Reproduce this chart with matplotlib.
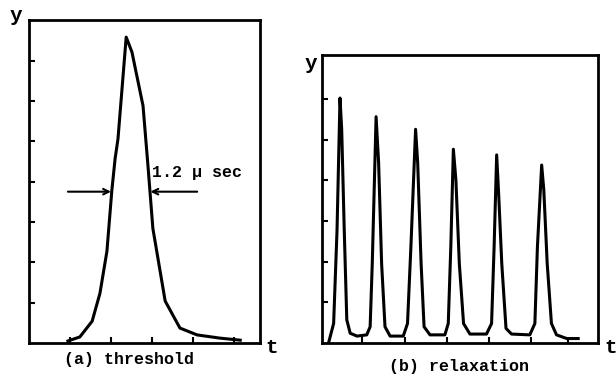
import numpy as np
from matplotlib import pyplot as plt

# (a) threshold pulse
t_a = [0.95, 1.24, 1.54, 1.73, 1.90, 2.02, 2.10, 2.17, 2.37, 2.51, 2.78, 2.90, 3.02, 3.32, 3.68, 4.10, 4.66, 5.15]
y_a = [0.05, 0.15, 0.54, 1.23, 2.27, 3.78, 4.57, 5.06, 7.58, 7.21, 5.88, 4.40, 2.84, 1.04, 0.37, 0.20, 0.12, 0.07]
half_y = 3.75
half_left = [0.95, 2.0]
half_right = [4.1, 2.96]
width_label = "1.2 \u03bc sec"

# (b) relaxation pulse train
t_b = [0.15, 0.27, 0.35, 0.42, 0.46, 0.52, 0.58, 0.66, 0.82, 1.05,
       1.13, 1.18, 1.27, 1.33, 1.40, 1.48, 1.60, 1.91,
       2.01, 2.09, 2.20, 2.25, 2.33, 2.40, 2.54, 2.89,
       2.97, 3.03, 3.09, 3.15, 3.23, 3.33, 3.48, 3.87,
       3.99, 4.05, 4.11, 4.16, 4.23, 4.33, 4.46, 4.89,
       5.01, 5.07, 5.17, 5.22, 5.30, 5.40, 5.52, 5.76, 6.03]
y_b = [0.00, 0.48, 2.78, 6.03, 5.25, 2.78, 0.57, 0.24, 0.17, 0.20,
       0.40, 1.96, 5.57, 4.43, 1.96, 0.40, 0.17, 0.17,
       0.48, 2.37, 5.26, 4.43, 1.96, 0.40, 0.20, 0.20,
       0.48, 2.37, 4.77, 4.01, 1.96, 0.48, 0.22, 0.22,
       0.48, 2.37, 4.63, 3.60, 1.96, 0.36, 0.22, 0.20,
       0.48, 2.37, 4.38, 3.77, 1.96, 0.48, 0.20, 0.11, 0.11]

font = dict(family=['Liberation Mono', 'DejaVu Sans Mono'], fontweight='bold', fontsize=12)

fig = plt.figure(figsize=(6.16, 3.78), dpi=100)
ax1 = fig.add_axes([0.047, 0.0926, 0.375, 0.854])
ax2 = fig.add_axes([0.523, 0.0926, 0.448, 0.762])

def style(ax, xlim, ylim, xt, yt):
    ax.set_xlim(*xlim)
    ax.set_ylim(*ylim)
    ax.set_xticks(xt)
    ax.set_yticks(yt)
    ax.set_xticklabels([])
    ax.set_yticklabels([])
    ax.tick_params(direction='in', length=4, width=1.5, top=False, right=False)
    for s in ax.spines.values():
        s.set_linewidth(2)

ax1.plot(t_a, y_a, color='black', lw=2.2)
style(ax1, (0, 5.63), (0, 8.0), [1, 2, 3, 4, 5], np.arange(1, 8))
arrow = dict(arrowstyle='->', lw=1.5, color='black', shrinkA=0, shrinkB=0)
ax1.annotate('', xy=(half_left[1], half_y), xytext=(half_left[0], half_y), arrowprops=arrow)
ax1.annotate('', xy=(half_right[1], half_y), xytext=(half_right[0], half_y), arrowprops=arrow)
ax1.text(3.0, 4.05, width_label, ha='left', va='bottom', **font)

ax2.plot(t_b, y_b, color='black', lw=2.2)
style(ax2, (0, 6.5), (0, 7.09), [0.93, 1.95, 2.93, 3.94, 4.93, 5.8], np.arange(1, 7))

fig.text(0.016, 0.96, 'y', ha='left', va='center', family=font['family'], fontweight='bold', fontsize=15)
fig.text(0.43, 0.082, 't', ha='left', va='center', family=font['family'], fontweight='bold', fontsize=15)
fig.text(0.495, 0.833, 'y', ha='left', va='center', family=font['family'], fontweight='bold', fontsize=15)
fig.text(0.981, 0.08, 't', ha='left', va='center', family=font['family'], fontweight='bold', fontsize=15)
fig.text(0.21, 0.048, '(a) threshold', ha='center', va='center', **font)
fig.text(0.745, 0.03, '(b) relaxation', ha='center', va='center', **font)

fig.savefig('out.png', dpi=100)
